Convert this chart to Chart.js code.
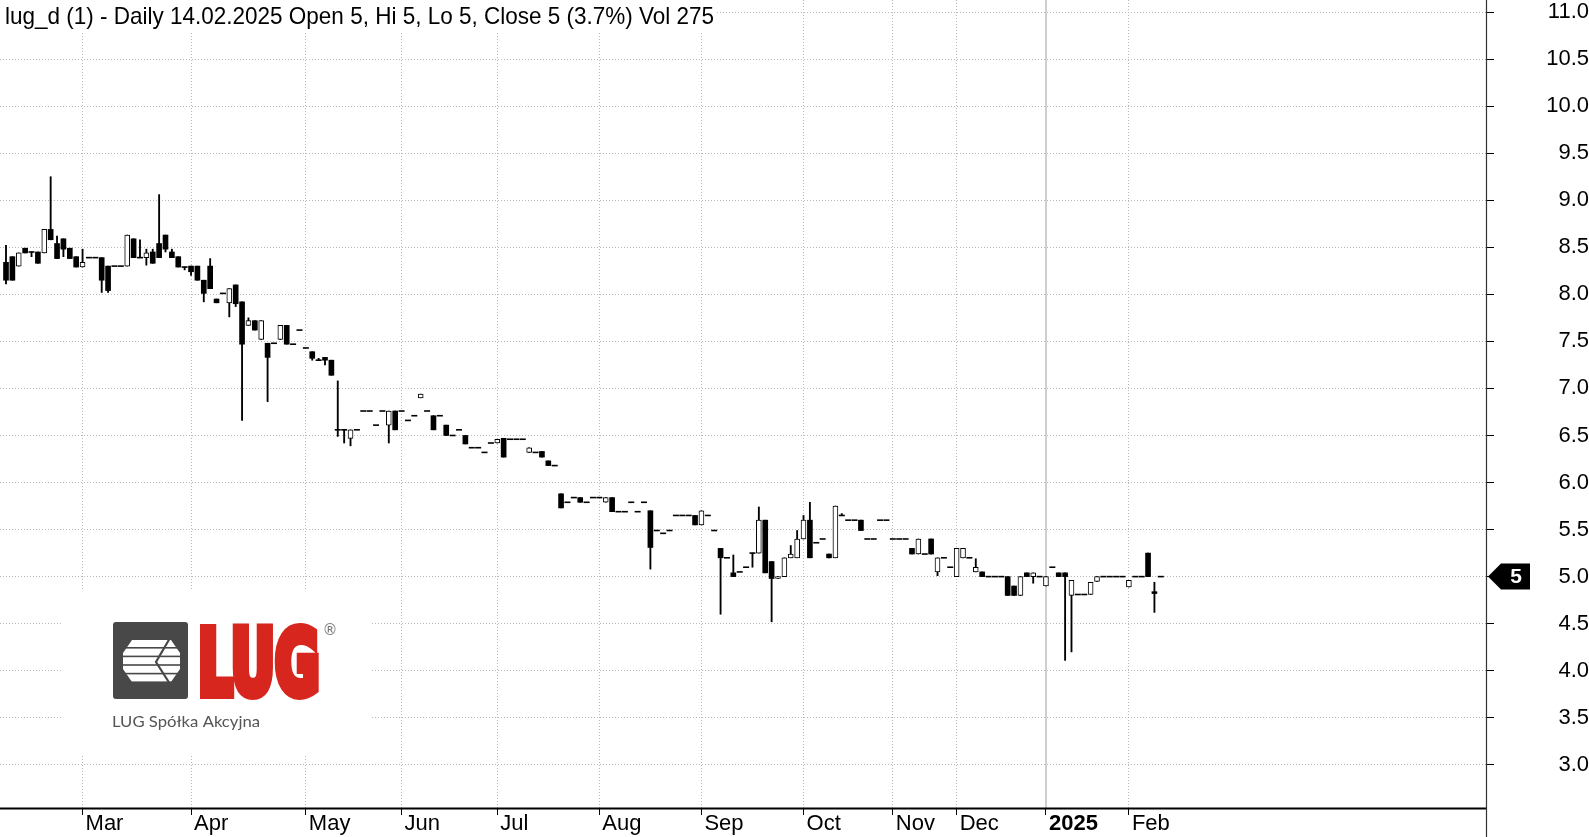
<!DOCTYPE html>
<html><head><meta charset="utf-8">
<script src="https://cdn.jsdelivr.net/npm/chart.js@4.4.1/dist/chart.umd.min.js"></script>
<style>html,body{margin:0;padding:0;background:#fff;overflow:hidden}canvas{display:block}</style>
</head><body>
<canvas id="c" width="1589" height="837"></canvas>
<script>
const titleText = "lug_d (1) - Daily 14.02.2025 Open 5, Hi 5, Lo 5, Close 5 (3.7%) Vol 275";
const logoWord = "LUG";
const logoCaption = "LUG Spółka Akcyjna";

const openV = [8.34,8.40,8.30,8.49,8.45,8.45,8.44,8.69,8.54,8.59,8.49,8.40,8.29,8.39,8.39,8.39,8.30,8.30,8.30,8.30,
8.59,8.39,8.39,8.45,8.54,8.63,8.45,8.40,8.29,8.30,8.30,8.15,8.30,7.95,8.01,7.91,8.10,7.92,7.67,7.72,
7.52,7.48,7.48,7.52,7.67,7.47,7.62,7.43,7.39,7.30,7.33,7.30,6.56,6.56,6.47,6.56,6.76,6.76,6.61,6.76,
6.61,6.76,6.76,6.66,6.71,6.90,6.76,6.71,6.71,6.61,6.50,6.56,6.50,6.37,6.37,6.32,6.42,6.42,6.47,6.46,
6.46,6.46,6.32,6.32,6.33,6.23,6.18,5.88,5.79,5.84,5.84,5.79,5.84,5.84,5.79,5.84,5.69,5.69,5.79,5.69,
5.79,5.70,5.49,5.46,5.49,5.65,5.65,5.65,5.65,5.55,5.65,5.49,5.30,5.20,5.04,5.05,5.10,5.25,5.25,5.60,
5.16,4.98,5.00,5.20,5.20,5.40,5.60,5.36,5.40,5.24,5.20,5.65,5.60,5.60,5.60,5.40,5.40,5.60,5.60,5.40,
5.40,5.40,5.30,5.24,5.24,5.40,5.05,5.20,5.10,5.00,5.20,5.20,5.05,5.05,5.00,5.00,5.00,5.00,4.90,4.80,
5.04,5.00,5.00,4.90,5.10,5.04,5.04,4.80,4.81,4.81,4.81,4.95,5.00,5.00,5.00,5.00,4.89,5.00,5.00,5.25,
4.84,5.00];
const highV = [8.52,8.40,8.44,8.49,8.45,8.45,8.69,9.25,8.62,8.59,8.49,8.40,8.48,8.39,8.39,8.39,8.30,8.30,8.30,8.63,
8.59,8.58,8.48,8.48,9.06,8.63,8.48,8.40,8.29,8.30,8.30,8.15,8.38,7.95,8.01,8.06,8.10,7.92,7.75,7.72,
7.72,7.48,7.48,7.67,7.67,7.47,7.62,7.43,7.39,7.32,7.33,7.30,7.08,6.56,6.56,6.56,6.76,6.76,6.61,6.76,
6.76,6.76,6.76,6.66,6.71,6.94,6.76,6.71,6.71,6.61,6.50,6.56,6.50,6.37,6.37,6.32,6.42,6.46,6.47,6.46,
6.46,6.46,6.37,6.32,6.33,6.23,6.18,5.88,5.79,5.84,5.84,5.79,5.84,5.84,5.84,5.84,5.69,5.69,5.79,5.69,
5.79,5.70,5.49,5.46,5.49,5.65,5.65,5.65,5.65,5.70,5.65,5.49,5.30,5.20,5.23,5.05,5.10,5.25,5.74,5.60,
5.16,5.00,5.20,5.33,5.49,5.65,5.79,5.36,5.40,5.24,5.75,5.67,5.60,5.60,5.60,5.40,5.40,5.60,5.60,5.40,
5.40,5.40,5.30,5.40,5.24,5.40,5.20,5.20,5.10,5.30,5.30,5.20,5.19,5.05,5.00,5.00,5.00,5.00,4.90,5.00,
5.04,5.04,5.00,5.00,5.10,5.04,5.04,4.96,4.81,4.81,4.94,5.00,5.00,5.00,5.00,5.00,4.96,5.00,5.00,5.25,
4.94,5.00];
const lowV = [8.11,8.15,8.30,8.44,8.40,8.33,8.44,8.58,8.38,8.40,8.38,8.29,8.29,8.39,8.39,8.02,8.02,8.30,8.30,8.30,
8.39,8.39,8.31,8.33,8.39,8.45,8.39,8.29,8.26,8.20,8.15,7.92,8.06,7.91,8.01,7.76,7.87,6.66,7.67,7.62,
7.52,6.86,7.48,7.52,7.47,7.47,7.62,7.43,7.30,7.30,7.25,7.14,6.49,6.42,6.39,6.56,6.76,6.76,6.61,6.76,
6.42,6.56,6.76,6.66,6.71,6.90,6.76,6.56,6.71,6.50,6.50,6.56,6.41,6.37,6.37,6.32,6.42,6.42,6.27,6.46,
6.46,6.46,6.32,6.32,6.27,6.18,6.18,5.73,5.79,5.84,5.79,5.79,5.84,5.84,5.79,5.69,5.69,5.69,5.79,5.69,
5.79,5.08,5.49,5.46,5.49,5.65,5.65,5.65,5.55,5.55,5.65,5.49,4.60,5.20,5.00,5.05,5.10,5.10,5.25,5.04,
4.52,4.98,5.00,5.20,5.20,5.40,5.20,5.36,5.40,5.20,5.20,5.65,5.60,5.60,5.49,5.40,5.40,5.60,5.60,5.40,
5.40,5.40,5.24,5.24,5.24,5.24,5.01,5.20,5.10,5.00,5.20,5.20,5.05,5.00,5.00,5.00,5.00,4.80,4.80,4.80,
5.00,4.93,5.00,4.90,5.10,5.00,4.11,4.20,4.81,4.81,4.81,4.95,5.00,5.00,5.00,5.00,4.89,5.00,5.00,5.00,
4.62,5.00];
const closeV = [8.15,8.15,8.44,8.44,8.45,8.33,8.69,8.58,8.38,8.48,8.38,8.29,8.34,8.39,8.39,8.15,8.04,8.30,8.30,8.63,
8.39,8.39,8.44,8.33,8.39,8.48,8.39,8.29,8.29,8.24,8.15,8.01,8.06,7.91,8.01,8.06,7.90,7.47,7.72,7.62,
7.72,7.33,7.48,7.67,7.47,7.47,7.62,7.43,7.32,7.30,7.30,7.14,6.56,6.56,6.56,6.56,6.76,6.76,6.61,6.76,
6.76,6.56,6.76,6.66,6.71,6.94,6.76,6.56,6.71,6.50,6.50,6.56,6.41,6.37,6.37,6.32,6.42,6.46,6.27,6.46,
6.46,6.46,6.37,6.32,6.27,6.18,6.18,5.73,5.79,5.84,5.79,5.79,5.84,5.84,5.84,5.69,5.69,5.69,5.79,5.69,
5.79,5.31,5.49,5.46,5.49,5.65,5.65,5.65,5.55,5.70,5.65,5.49,5.20,5.20,5.00,5.05,5.10,5.25,5.60,5.04,
4.98,5.00,5.20,5.24,5.40,5.60,5.20,5.36,5.40,5.20,5.75,5.65,5.60,5.60,5.49,5.40,5.40,5.60,5.60,5.40,
5.40,5.40,5.24,5.40,5.24,5.24,5.20,5.20,5.10,5.30,5.30,5.20,5.10,5.00,5.00,5.00,5.00,4.80,4.80,5.00,
5.00,5.04,5.00,5.00,5.10,5.00,5.00,4.96,4.81,4.81,4.94,5.00,5.00,5.00,5.00,5.00,4.96,5.00,5.00,5.00,
4.82,5.00];

const monthIdx = [12,29,47,62,77,93,109,125,139,149,163,176];
const monthLabels = ['Mar','Apr','May','Jun','Jul','Aug','Sep','Oct','Nov','Dec','2025','Feb'];
const yTicks = [3.0,3.5,4.0,4.5,5.0,5.5,6.0,6.5,7.0,7.5,8.0,8.5,9.0,9.5,10.0,10.5,11.0];
const lastValue = closeV[closeV.length - 1];

const wickData = [], upData = [], downData = [], dashData = [];
for (let i = 0; i < openV.length; i++) {
  const o = openV[i], h = highV[i], l = lowV[i], c = closeV[i];
  if (h > l) wickData.push({x: i, y: [l, h]});
  if (o === c) dashData.push({x: i, y: c});
  else if (c > o) upData.push({x: i, y: [o, c]});
  else downData.push({x: i, y: [c, o]});
}

const FONT = '"Liberation Sans", Arial, sans-serif';
const mctx = document.createElement('canvas').getContext('2d');
mctx.font = '22px ' + FONT;
const widestY = Math.max(...yTicks.map(v => mctx.measureText(v.toFixed(1)).width));
const Y_AXIS_W = 103, TICK_LEN = 8, LABEL_RIGHT = 1584;
const yAxisLeft = 1589 - Y_AXIS_W;
const yLabelPad = LABEL_RIGHT - yAxisLeft - TICK_LEN - widestY;

function labelOf(v) { const k = monthIdx.indexOf(v); return k >= 0 ? monthLabels[k] : ''; }

const decor = {
  id: 'decor',
  beforeDatasetsDraw(chart) {
    const ctx = chart.ctx, xs = chart.scales.x, ca = chart.chartArea;
    ctx.save();
    const xYear = xs.getPixelForValue(monthIdx[monthLabels.indexOf('2025')]);
    ctx.strokeStyle = '#cfcfcf'; ctx.lineWidth = 2;
    ctx.beginPath(); ctx.moveTo(Math.round(xYear), ca.top); ctx.lineTo(Math.round(xYear), ca.bottom); ctx.stroke();
    ctx.fillStyle = '#fff';
    ctx.fillRect(0, 0, 716, 32);
    ctx.font = '24px ' + FONT;
    const tw = ctx.measureText(titleText).width;
    ctx.fillStyle = '#000'; ctx.textBaseline = 'alphabetic'; ctx.textAlign = 'left';
    ctx.save(); ctx.translate(5, 24); ctx.scale(709 / tw, 1); ctx.fillText(titleText, 0, 0); ctx.restore();
    ctx.fillStyle = '#fff';
    ctx.fillRect(63, 591, 308, 164);
    ctx.fillStyle = '#484848';
    ctx.beginPath();
    if (ctx.roundRect) ctx.roundRect(113, 622, 75, 77, 3); else ctx.rect(113, 622, 75, 77);
    ctx.fill();
    ctx.save();
    ctx.beginPath();
    ctx.moveTo(132, 640); ctx.lineTo(171, 640); ctx.lineTo(180, 653); ctx.lineTo(180, 669);
    ctx.lineTo(171, 682); ctx.lineTo(132, 682); ctx.lineTo(123, 669); ctx.lineTo(123, 653); ctx.closePath();
    ctx.clip();
    ctx.fillStyle = '#fff';
    for (let k = 0; k < 5; k++) ctx.fillRect(120, 640 + k * 8.6, 64, 7.0);
    ctx.restore();
    ctx.strokeStyle = '#484848'; ctx.lineWidth = 2.2;
    ctx.beginPath(); ctx.moveTo(170, 638); ctx.lineTo(156, 662); ctx.lineTo(170, 684); ctx.stroke();
    const L = 6;
    ctx.font = 'bold 50px "DejaVu Sans", ' + FONT;
    let m = ctx.measureText(logoWord);
    let w50 = m.actualBoundingBoxRight + m.actualBoundingBoxLeft;
    const F = 50 * (120 - L) / w50;
    ctx.font = 'bold ' + F + 'px "DejaVu Sans", ' + FONT;
    m = ctx.measureText(logoWord);
    const capH = m.actualBoundingBoxAscent;
    const sy = 77 / (capH + L);
    ctx.save();
    ctx.translate(200 + L / 2 + m.actualBoundingBoxLeft, 699 - (L / 2) * sy);
    ctx.scale(1, sy);
    ctx.fillStyle = '#d7261e'; ctx.strokeStyle = '#d7261e'; ctx.lineWidth = L; ctx.lineJoin = 'miter';
    ctx.fillText(logoWord, 0, 0); ctx.strokeText(logoWord, 0, 0);
    ctx.restore();
    ctx.fillStyle = '#777'; ctx.font = '15px "DejaVu Sans", ' + FONT;
    ctx.textAlign = 'center'; ctx.textBaseline = 'middle';
    ctx.fillText('\u00AE', 330, 631);
    ctx.textAlign = 'left'; ctx.textBaseline = 'alphabetic';
    ctx.font = '15px Lato, ' + FONT;
    const cw = ctx.measureText(logoCaption).width;
    ctx.fillStyle = '#555';
    ctx.save(); ctx.translate(112, 727); ctx.scale(148 / cw, 1); ctx.fillText(logoCaption, 0, 0); ctx.restore();
    ctx.restore();
  },
  afterDraw(chart) {
    const ctx = chart.ctx, ca = chart.chartArea, ys = chart.scales.y;
    ctx.save();
    ctx.strokeStyle = '#000';
    ctx.lineWidth = 2;
    ctx.beginPath(); ctx.moveTo(0, ca.bottom + 0.5); ctx.lineTo(ca.right, ca.bottom + 0.5); ctx.stroke();
    ctx.strokeStyle = '#333'; ctx.lineWidth = 1.2;
    ctx.beginPath(); ctx.moveTo(ca.right + 0.5, 0); ctx.lineTo(ca.right + 0.5, chart.height); ctx.stroke();
    const y = ys.getPixelForValue(lastValue);
    const x0 = ca.right + 2;
    ctx.fillStyle = '#000';
    ctx.beginPath();
    ctx.moveTo(x0, y); ctx.lineTo(x0 + 13, y - 13); ctx.lineTo(x0 + 42, y - 13);
    ctx.lineTo(x0 + 42, y + 13); ctx.lineTo(x0 + 13, y + 13); ctx.closePath(); ctx.fill();
    ctx.fillStyle = '#fff'; ctx.font = 'bold 21px ' + FONT;
    ctx.textAlign = 'center'; ctx.textBaseline = 'middle';
    ctx.fillText(String(lastValue), x0 + 28, y + 1);
    ctx.restore();
  }
};

Chart.defaults.font.family = FONT;

new Chart(document.getElementById('c'), {
  type: 'bar',
  data: {
    datasets: [
      { type: 'bar', label: 'wick', data: wickData, backgroundColor: '#000', barThickness: 1.2, grouped: false, order: 3, borderWidth: 0 },
      { type: 'bar', label: 'up', data: upData, backgroundColor: '#fff', borderColor: '#000', borderWidth: 1, borderSkipped: false, barThickness: 5, grouped: false, order: 2 },
      { type: 'bar', label: 'down', data: downData, backgroundColor: '#000', borderColor: '#000', borderWidth: 0, borderSkipped: false, barThickness: 5, grouped: false, order: 1 },
      { type: 'scatter', label: 'flat', data: dashData, pointStyle: 'line', pointRadius: 3, pointHoverRadius: 3, borderColor: '#000', borderWidth: 1.6, showLine: false, order: 0 }
    ]
  },
  options: {
    responsive: false,
    devicePixelRatio: 1,
    animation: false,
    events: [],
    layout: { padding: 0, autoPadding: false },
    plugins: { legend: { display: false }, tooltip: { enabled: false }, title: { display: false } },
    scales: {
      x: {
        type: 'linear',
        offset: false,
        min: -0.94,
        max: 231.97,
        afterBuildTicks: (s) => { s.ticks = monthIdx.map(v => ({ value: v })); },
        afterFit: (s) => { s.height = 29; s.paddingLeft = 0; s.paddingRight = 0; },
        grid: {
          offset: false,
          drawOnChartArea: true,
          color: (c) => (c.tick && labelOf(c.tick.value) === '2025') ? 'rgba(0,0,0,0)' : '#b8b8b8',
          lineWidth: 1,
          drawTicks: true,
          tickLength: 7,
          tickColor: '#000',
          tickWidth: 1,
          tickBorderDash: []
        },
        border: { display: false, dash: [1, 2] },
        ticks: {
          autoSkip: false,
          maxRotation: 0,
          minRotation: 0,
          align: 'start',
          labelOffset: 3,
          padding: -4,
          color: '#000',
          font: (c) => ({ family: FONT, size: 22, weight: (c.tick && labelOf(c.tick.value) === '2025') ? 'bold' : 'normal' }),
          callback: (v) => labelOf(v)
        }
      },
      y: {
        type: 'linear',
        position: 'right',
        min: 2.541,
        max: 11.128,
        beginAtZero: false,
        afterBuildTicks: (s) => { s.ticks = yTicks.map(v => ({ value: v })); },
        afterFit: (s) => { s.width = Y_AXIS_W; s.paddingTop = 0; s.paddingBottom = 0; },
        grid: {
          color: '#b8b8b8',
          lineWidth: 1,
          drawTicks: true,
          tickLength: TICK_LEN,
          tickColor: '#000',
          tickWidth: 1,
          tickBorderDash: []
        },
        border: { display: false, dash: [1, 2] },
        ticks: {
          crossAlign: 'far',
          padding: yLabelPad,
          color: '#000',
          font: { family: FONT, size: 22 },
          callback: (v) => Number(v).toFixed(1)
        }
      }
    }
  },
  plugins: [decor]
});
</script>
</body></html>
